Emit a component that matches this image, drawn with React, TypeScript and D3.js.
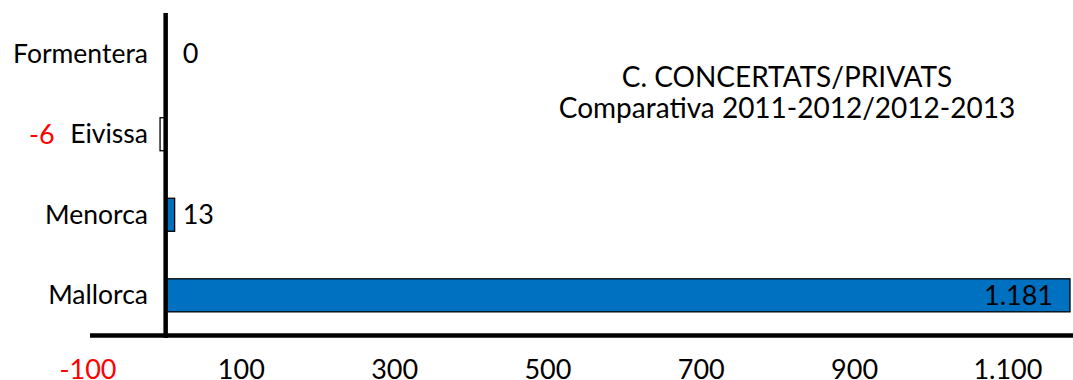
import React from "react";
import * as d3 from "d3";

const categories = ["Formentera", "Eivissa", "Menorca", "Mallorca"];
const values = [0, -6, 13, 1181];
const tickValues = [-100, 100, 300, 500, 700, 900, 1100];
const titleLines = ["C. CONCERTATS/PRIVATS", "Comparativa 2011-2012/2012-2013"];

const W = 1073;
const H = 380;
const FONT = "Lato, 'Open Sans', sans-serif";

const locale = d3.formatLocale({ decimal: ",", thousands: ".", grouping: [3], currency: ["", "€"], minus: "-" });
const fmt = locale.format(",d");

export default function App() {
  const x = d3.scaleLinear().domain([-100, 1181]).range([88, 1070]);
  const y = d3.scaleBand().domain(categories).range([13, 336]).paddingInner(0.59).paddingOuter(0.3);
  const x0 = x(0);
  const axisY = 335.5;

  return (
    <svg width={W} height={H} style={{ position: "absolute", left: 0, top: 0, background: "#fff" }}>
      {/* bars */}
      {categories.map((c, i) => {
        const v = values[i];
        const bx = Math.min(x(v), x0);
        const bw = Math.abs(x(v) - x0);
        const by = y(c)!;
        const bh = y.bandwidth();
        if (v === 0) return null;
        return (
          <rect
            key={c}
            x={bx}
            y={by}
            width={bw}
            height={bh}
            fill={v < 0 ? "#fff" : "#0070C0"}
            stroke="#000"
            strokeWidth={1.3}
          />
        );
      })}

      {/* axes */}
      <line x1={x(-100) + 2} x2={W} y1={axisY} y2={axisY} stroke="#000" strokeWidth={4.5} />
      <line x1={x0 + 1} x2={x0 + 1} y1={13} y2={338} stroke="#000" strokeWidth={4.5} />

      {/* category labels */}
      {categories.map((c) => (
        <text
          key={c}
          x={148}
          y={y(c)! + y.bandwidth() / 2 + 9}
          textAnchor="end"
          fontFamily={FONT}
          fontSize={26.5}
          fill="#000"
        >
          {c}
        </text>
      ))}

      {/* value labels */}
      {categories.map((c, i) => {
        const v = values[i];
        const by = y(c)! + y.bandwidth() / 2 + 9.5;
        if (v < 0) {
          return (
            <text key={c} x={29} y={by} fontFamily={FONT} fontSize={27} fill="#ff0000">
              {fmt(v)}
            </text>
          );
        }
        if (v > 1000) {
          return (
            <text key={c} x={x(v) - 17} y={by} textAnchor="end" fontFamily={FONT} fontSize={27} fill="#000">
              {fmt(v)}
            </text>
          );
        }
        return (
          <text key={c} x={Math.max(x(v) + 7, x0 + 18)} y={by} fontFamily={FONT} fontSize={27} fill="#000">
            {fmt(v)}
          </text>
        );
      })}

      {/* tick labels */}
      {tickValues.map((t) => (
        <text
          key={t}
          x={x(t)}
          y={379}
          textAnchor="middle"
          fontFamily={FONT}
          fontSize={27}
          fill={t < 0 ? "#ff0000" : "#000"}
        >
          {fmt(t)}
        </text>
      ))}

      {/* title */}
      {titleLines.map((l, i) => (
        <text key={i} x={787} y={87 + i * 31} textAnchor="middle" fontFamily={FONT} fontSize={28} fill="#000">
          {l}
        </text>
      ))}
    </svg>
  );
}
